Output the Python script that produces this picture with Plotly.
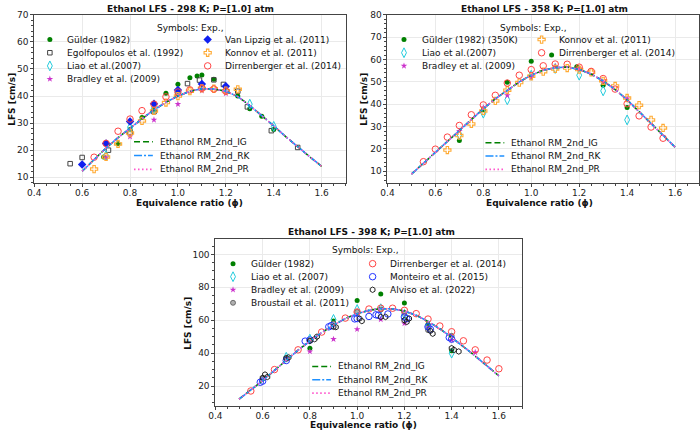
import plotly.graph_objects as go

# ------------------------------------------------------------------ data
# model curves (phi, LFS cm/s)
phi_m298 = [0.60, 0.65, 0.70, 0.75, 0.80, 0.85, 0.90, 0.95, 1.00, 1.05, 1.10,
            1.15, 1.20, 1.25, 1.30, 1.35, 1.40, 1.45, 1.50, 1.55, 1.60]
ig_298 = [12.2, 16.6, 20.8, 24.6, 28.2, 31.6, 34.9, 37.7, 40.0, 41.8, 42.7,
          42.6, 41.8, 39.8, 36.5, 32.8, 29.0, 25.0, 21.2, 17.6, 14.0]
rk_298 = [12.2, 16.6, 20.8, 24.6, 28.2, 31.6, 34.9, 37.7, 40.0, 41.8, 42.7,
          42.6, 41.8, 39.8, 36.5, 32.8, 29.0, 25.0, 21.2, 17.6, 14.0]
pr_298 = [12.2, 16.6, 20.8, 24.6, 28.2, 31.6, 34.9, 37.7, 40.0, 41.8, 42.7,
          42.6, 41.8, 39.8, 36.5, 32.8, 29.0, 25.0, 21.2, 17.6, 14.0]

phi_m = [0.50, 0.55, 0.60, 0.65, 0.70, 0.75, 0.80, 0.85, 0.90, 0.95, 1.00, 1.05,
         1.10, 1.15, 1.20, 1.25, 1.30, 1.35, 1.40, 1.45, 1.50, 1.55, 1.60]
ig_358 = [8.7, 13.6, 18.6, 23.6, 28.6, 33.4, 38.0, 42.4, 46.4, 50.0, 53.0, 55.2,
          56.4, 56.6, 55.6, 53.5, 50.4, 46.6, 42.0, 36.8, 31.4, 26.0, 20.8]
rk_358 = [8.7, 13.6, 18.6, 23.6, 28.6, 33.4, 38.0, 42.4, 46.4, 50.0, 53.0, 55.2,
          56.4, 56.6, 55.6, 53.5, 50.4, 46.6, 42.0, 36.8, 31.4, 26.0, 20.8]
pr_358 = [8.7, 13.6, 18.6, 23.6, 28.6, 33.4, 38.0, 42.4, 46.4, 50.0, 53.0, 55.2,
          56.4, 56.6, 55.6, 53.5, 50.4, 46.6, 42.0, 36.8, 31.4, 26.0, 20.8]
ig_398 = [12.0, 17.5, 23.3, 29.5, 35.8, 41.8, 47.3, 52.5, 57.0, 61.0, 64.0, 66.0,
          67.0, 66.9, 65.6, 63.0, 59.3, 54.8, 49.6, 44.0, 38.2, 32.2, 26.2]
rk_398 = [12.0, 17.5, 23.3, 29.5, 35.8, 41.8, 47.3, 52.5, 57.0, 61.0, 64.0, 66.0,
          67.0, 66.9, 65.6, 63.0, 59.3, 54.8, 49.6, 44.0, 38.2, 32.2, 26.2]
pr_398 = [12.0, 17.5, 23.3, 29.5, 35.8, 41.8, 47.3, 52.5, 57.0, 61.0, 64.0, 66.0,
          67.0, 66.9, 65.6, 63.0, 59.3, 54.8, 49.6, 44.0, 38.2, 32.2, 26.2]

# ---- experiments, 298 K
gulder_298_phi = [0.69, 0.75, 0.80, 0.85, 0.90, 0.95, 1.00, 1.05, 1.08, 1.10, 1.15, 1.25, 1.30, 1.35, 1.40]
gulder_298_lfs = [17.5, 22.4, 27.6, 32.1, 35.0, 41.0, 44.4, 46.8, 47.4, 47.8, 46.2, 40.0, 35.3, 32.5, 27.6]
egol_298_phi = [0.55, 0.60, 0.71, 0.80, 0.90, 1.00, 1.04, 1.09, 1.15, 1.19, 1.25, 1.29, 1.39, 1.50]
egol_298_lfs = [15.0, 17.3, 20.0, 26.5, 34.2, 41.0, 44.6, 45.9, 46.0, 44.3, 41.8, 36.0, 27.2, 21.0]
liao_298_phi = [0.70, 0.80, 0.90, 1.00, 1.10, 1.20, 1.30, 1.40]
liao_298_lfs = [18.0, 28.5, 35.5, 41.5, 43.6, 42.3, 37.0, 28.8]
bradley_298_phi = [0.70, 0.80, 0.90, 1.00, 1.10, 1.20]
bradley_298_lfs = [17.3, 25.0, 31.2, 37.0, 42.0, 41.0]
vanlip_298_phi = [0.60, 0.70, 0.80, 0.90, 1.00, 1.10, 1.20]
vanlip_298_lfs = [14.7, 22.5, 30.6, 37.2, 42.2, 44.5, 43.6]
konnov_298_phi = [0.65, 0.70, 0.75, 0.80, 0.85, 0.90, 0.95, 1.00, 1.05, 1.10, 1.15, 1.20, 1.25]
konnov_298_lfs = [13.0, 17.5, 22.3, 26.3, 30.8, 34.5, 37.6, 40.0, 41.8, 42.8, 42.7, 42.0, 42.5]
dirr_298_phi = [0.65, 0.70, 0.75, 0.80, 0.85, 0.90, 0.95, 1.00, 1.05, 1.10, 1.15, 1.20]
dirr_298_lfs = [17.4, 22.5, 27.0, 31.5, 34.6, 37.0, 39.7, 41.5, 42.3, 42.9, 42.6, 41.8]

# ---- experiments, 358 K
gulder_358_phi = [0.70, 0.80, 0.90, 1.00, 1.085, 1.19, 1.30, 1.40]
gulder_358_lfs = [23.8, 37.5, 49.8, 59.3, 62.0, 56.8, 48.5, 38.5]
liao_358_phi = [0.70, 0.80, 0.90, 1.00, 1.10, 1.20, 1.30, 1.40]
liao_358_lfs = [26.5, 36.0, 42.0, 53.0, 56.0, 53.0, 46.0, 33.0]
bradley_358_phi = [0.70, 0.80, 0.90, 1.00, 1.10, 1.20, 1.30, 1.40]
bradley_358_lfs = [28.0, 38.5, 44.0, 52.0, 57.0, 56.0, 50.0, 42.5]
konnov_358_phi = [0.65, 0.70, 0.75, 0.80, 0.85, 0.90, 0.95, 1.00, 1.05, 1.10, 1.15, 1.20,
                  1.25, 1.30, 1.35, 1.40, 1.45, 1.50, 1.55]
konnov_358_lfs = [19.5, 26.0, 31.2, 37.0, 41.5, 46.3, 49.7, 52.5, 54.6, 55.8, 56.2, 55.5,
                  54.3, 50.5, 48.2, 42.8, 39.6, 33.0, 29.4]
dirr_358_phi = [0.55, 0.60, 0.65, 0.70, 0.75, 0.80, 0.85, 0.90, 0.95, 1.00, 1.05, 1.10,
                1.15, 1.20, 1.25, 1.30, 1.35, 1.40, 1.45, 1.50, 1.55]
dirr_358_lfs = [14.3, 19.9, 25.3, 30.5, 35.3, 39.7, 44.0, 49.5, 53.0, 55.5, 57.2, 58.0,
                57.9, 56.6, 54.7, 51.5, 46.8, 40.2, 34.8, 29.8, 24.8]

# ---- experiments, 398 K
gulder_398_phi = [0.80, 0.90, 1.00, 1.10, 1.20, 1.30, 1.40]
gulder_398_lfs = [43.0, 59.5, 72.0, 76.0, 70.5, 57.5, 41.5]
liao_398_phi = [0.70, 0.80, 0.90, 1.00, 1.10, 1.20, 1.30, 1.40]
liao_398_lfs = [37.5, 48.5, 60.5, 66.5, 67.0, 63.5, 56.0, 40.0]
bradley_398_phi = [0.80, 0.90, 1.00, 1.10, 1.20, 1.30, 1.40, 1.50]
bradley_398_lfs = [41.0, 48.5, 54.5, 60.5, 58.0, 55.5, 48.0, 40.5]
brou_398_phi = [0.60, 0.70, 0.80, 0.90, 1.00, 1.10, 1.20, 1.30, 1.40]
brou_398_lfs = [24.5, 36.5, 47.5, 58.0, 65.0, 66.5, 64.5, 54.0, 50.5]
dirr_398_phi = [0.55, 0.65, 0.75, 0.85, 0.95, 1.00, 1.05, 1.10, 1.15, 1.20, 1.25, 1.30,
                1.35, 1.40, 1.45, 1.50, 1.55, 1.60]
dirr_398_lfs = [17.0, 30.0, 42.0, 52.8, 61.3, 65.0, 66.8, 67.3, 67.3, 66.0, 64.0, 60.7,
                56.5, 53.0, 47.5, 42.0, 35.8, 30.5]
mont_398_phi = [0.59, 0.60, 0.70, 0.78, 0.80, 0.88, 0.89, 0.99, 1.00, 1.05, 1.08, 1.09,
                1.13, 1.20, 1.21, 1.30, 1.31, 1.39, 1.40]
mont_398_lfs = [22.3, 23.0, 35.5, 47.3, 48.0, 56.0, 56.7, 60.8, 61.0, 62.3, 63.3, 63.0,
                63.8, 62.0, 61.0, 56.0, 54.5, 49.5, 48.5]
alv_398_phi = [0.60, 0.61, 0.62, 0.70, 0.71, 0.80, 0.82, 0.83, 0.90, 0.91, 1.01, 1.02,
               1.10, 1.12, 1.20, 1.21, 1.22, 1.31, 1.32, 1.40, 1.41, 1.43]
alv_398_lfs = [25.0, 27.0, 25.5, 37.0, 37.4, 47.5, 48.5, 50.0, 56.0, 55.8, 61.0, 59.5,
               62.0, 62.0, 60.0, 59.0, 61.0, 53.5, 51.8, 43.0, 42.0, 41.0]

titles = ["Ethanol LFS - 298 K; P=[1.0] atm",
          "Ethanol LFS - 358 K; P=[1.0] atm",
          "Ethanol LFS - 398 K; P=[1.0] atm"]
model_labels = ["Ethanol RM_2nd_IG", "Ethanol RM_2nd_RK", "Ethanol RM_2nd_PR"]
xtitle = "Equivalence ratio (\u03d5)"
ytitle = "LFS [cm/s]"
legend_head = "Symbols: Exp.,"

# ------------------------------------------------------------------ styles
FONT = "DejaVu Sans"
STY = {
    "gulder": dict(symbol="circle", size=5, color="#008000", line=dict(width=0)),
    "egol": dict(symbol="square-open", size=4.5, color="#444444", line=dict(width=1)),
    "liao": dict(symbol="diamond-tall-open", size=7, color="#22CCDD", line=dict(width=1)),
    "bradley": dict(symbol="star", size=5, color="#CC33CC", line=dict(width=0)),
    "vanlip": dict(symbol="diamond", size=6.5, color="#1020F0", line=dict(width=0)),
    "konnov": dict(symbol="cross-open", size=6, color="#FFAA33", line=dict(width=1.1)),
    "dirr": dict(symbol="circle-open", size=6.5, color="#FF4444", line=dict(width=1)),
    "mont": dict(symbol="circle-open", size=6.5, color="#2233FF", line=dict(width=1)),
    "alv": dict(symbol="hexagon-open", size=5.5, color="#222222", line=dict(width=1)),
    "brou": dict(symbol="circle", size=5, color="#B0B0B0", line=dict(width=0.8, color="#555555")),
}
LINESTY = [dict(color="#008000", width=1.6, dash="6px,3px"),
           dict(color="#1E90FF", width=1.6, dash="8px,2px,2px,2px"),
           dict(color="#FF55CC", width=1.6, dash="1.5px,2.5px")]

panels = [
    dict(ax="", model=(phi_m298, [ig_298, rk_298, pr_298]),
         exps=[("Gülder (1982)", "gulder", gulder_298_phi, gulder_298_lfs, 0, 0),
               ("Egolfopoulos et al. (1992)", "egol", egol_298_phi, egol_298_lfs, 0, 1),
               ("Liao et al.(2007)", "liao", liao_298_phi, liao_298_lfs, 0, 2),
               ("Bradley et al. (2009)", "bradley", bradley_298_phi, bradley_298_lfs, 0, 3),
               ("Van Lipzig et al. (2011)", "vanlip", vanlip_298_phi, vanlip_298_lfs, 1, 0),
               ("Konnov et al. (2011)", "konnov", konnov_298_phi, konnov_298_lfs, 1, 1),
               ("Dirrenberger et al. (2014)", "dirr", dirr_298_phi, dirr_298_lfs, 1, 2)],
         xdom=[27.5, 342], ytop=10, ybot=180, yr=[7.9, 70], ydt=10, ymin=2,
         title=(185.5, 4), xt=(184.5, 200.5), yt=(5.5, 95.5),
         head=(185, 23.3), colx=[43.3, 202.7], y0=35.0, dy=13.3,
         lx=128.3, ly=138.3, ldy=14.0),
    dict(ax="2", model=(phi_m, [ig_358, rk_358, pr_358]),
         exps=[("Gülder (1982) (350K)", "gulder", gulder_358_phi, gulder_358_lfs, 0, 0),
               ("Liao et al.(2007)", "liao", liao_358_phi, liao_358_lfs, 0, 1),
               ("Bradley et al. (2009)", "bradley", bradley_358_phi, bradley_358_lfs, 0, 2),
               ("Konnov et al. (2011)", "konnov", konnov_358_phi, konnov_358_lfs, 1, 0),
               ("Dirrenberger et al. (2014)", "dirr", dirr_358_phi, dirr_358_lfs, 1, 1)],
         xdom=[384.3, 699], ytop=10, ybot=180, yr=[4.8, 80], ydt=10, ymin=2,
         title=(543.3, 4), xt=(537.5, 200.5), yt=(361, 95.5),
         head=(531.7, 23.3), colx=[401, 540], y0=35.0, dy=13.3,
         lx=483.3, ly=139.3, ldy=13.5),
    dict(ax="3", model=(phi_m, [ig_398, rk_398, pr_398]),
         exps=[("Gülder (1982)", "gulder", gulder_398_phi, gulder_398_lfs, 0, 0),
               ("Liao et al. (2007)", "liao", liao_398_phi, liao_398_lfs, 0, 1),
               ("Bradley et al. (2009)", "bradley", bradley_398_phi, bradley_398_lfs, 0, 2),
               ("Broustail et al. (2011)", "brou", brou_398_phi, brou_398_lfs, 0, 3),
               ("Dirrenberger et al. (2014)", "dirr", dirr_398_phi, dirr_398_lfs, 1, 0),
               ("Monteiro et al. (2015)", "mont", mont_398_phi, mont_398_lfs, 1, 1),
               ("Alviso et al. (2022)", "alv", alv_398_phi, alv_398_lfs, 1, 2)],
         xdom=[210.5, 520.7], ytop=236.7, ybot=405.5, yr=[8.0, 109.4], ydt=20, ymin=5,
         title=(367.7, 229.3), xt=(360.4, 425.3), yt=(182.7, 321.7),
         head=(361.7, 248.3), colx=[228.3, 369.3], y0=261.7, dy=13.2,
         lx=308.3, ly=365.7, ldy=13.5),
]

W, H = 700, 430
fig = go.Figure()
annotations = []

def txt(x, y, s, anchor="left", size=9, angle=0, bold=False):
    annotations.append(dict(
        x=x, y=y, xref="x4", yref="y4", text=("<b>%s</b>" % s) if bold else s,
        showarrow=False, xanchor=anchor, yanchor="middle", textangle=angle,
        font=dict(family=FONT, size=size, color="#111111"), borderpad=0))

for idx, p in enumerate(panels):
    xa = "x" + p["ax"]
    ya = "y" + p["ax"]
    for label, key, xs, ys, col, row in p["exps"]:
        fig.add_trace(go.Scatter(x=xs, y=ys, mode="markers", xaxis=xa, yaxis=ya,
                                 marker=STY[key], showlegend=False, hoverinfo="skip"))
    px, curves = p["model"]
    for lab, ys, ls in zip(model_labels, curves, LINESTY):
        fig.add_trace(go.Scatter(x=px, y=ys, mode="lines", xaxis=xa, yaxis=ya,
                                 line=ls, showlegend=False, hoverinfo="skip"))

    # ---- manual legends (overlay pixel axis)
    txt(p["head"][0], p["head"][1], legend_head, anchor="center")
    for label, key, xs, ys, col, row in p["exps"]:
        mx = p["colx"][col]
        my = p["y0"] + row * p["dy"]
        fig.add_trace(go.Scatter(x=[mx], y=[my], mode="markers", xaxis="x4", yaxis="y4",
                                 marker=STY[key], showlegend=False, hoverinfo="skip"))
        txt(mx + 16.7, my, label)
    for i, (lab, ls) in enumerate(zip(model_labels, LINESTY)):
        ly = p["ly"] + i * p["ldy"]
        fig.add_trace(go.Scatter(x=[p["lx"], p["lx"] + 19], y=[ly, ly], mode="lines",
                                 xaxis="x4", yaxis="y4", line=ls, showlegend=False,
                                 hoverinfo="skip"))
        txt(p["lx"] + 25, ly, lab)

    # titles
    txt(p["title"][0], p["title"][1], titles[idx], anchor="center", bold=True)
    txt(p["xt"][0], p["xt"][1], xtitle, anchor="center", bold=True)
    txt(p["yt"][0], p["yt"][1], ytitle, anchor="center", bold=True, angle=-90)

layout = dict(
    width=W, height=H, margin=dict(l=0, r=0, t=0, b=0),
    paper_bgcolor="white", plot_bgcolor="rgba(0,0,0,0)",
    showlegend=False, hovermode=False,
    font=dict(family=FONT, size=9, color="#222222"),
)

axis_common = dict(showline=True, mirror=True, linecolor="#444444", linewidth=1,
                   ticks="outside", ticklen=3, tickwidth=1, tickcolor="#444444",
                   showgrid=True, gridcolor="#EAEAEA", gridwidth=0.8, zeroline=False,
                   tickfont=dict(family=FONT, size=9, color="#222222"))

for p in panels:
    a = p["ax"]
    xdom = [p["xdom"][0] / W, p["xdom"][1] / W]
    ydom = [1 - p["ybot"] / H, 1 - p["ytop"] / H]
    layout["xaxis" + a] = dict(axis_common, domain=xdom, range=[0.4, 1.7], dtick=0.2,
                               tick0=0.4, tickformat=".1f", anchor="y" + a,
                               ticklabelstandoff=-2,
                               minor=dict(dtick=0.05, ticklen=2, ticks="outside",
                                          tickcolor="#444444", showgrid=False))
    layout["yaxis" + a] = dict(axis_common, domain=ydom, range=p["yr"], dtick=p["ydt"],
                               tick0=0, anchor="x" + a,
                               minor=dict(dtick=p["ymin"], ticklen=2, ticks="outside",
                                          tickcolor="#444444", showgrid=False))

layout["xaxis4"] = dict(domain=[0, 1], range=[0, W], visible=False, anchor="y4",
                        fixedrange=True)
layout["yaxis4"] = dict(domain=[0, 1], range=[H, 0], visible=False, anchor="x4",
                        fixedrange=True)
layout["annotations"] = annotations
fig.update_layout(**layout)
fig.write_html("out.html")
